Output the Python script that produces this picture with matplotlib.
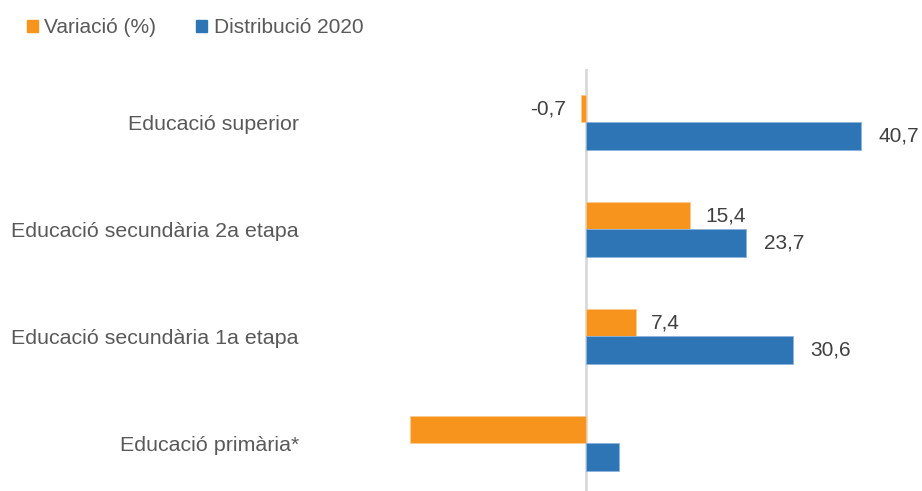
import matplotlib.pyplot as plt
from matplotlib.patches import Patch
import numpy as np

plt.rcParams['font.family'] = ['Liberation Sans', 'DejaVu Sans']

# categories from bottom to top
categories = ['Educació primària*', 'Educació secundària 1a etapa',
              'Educació secundària 2a etapa', 'Educació superior']
variacio = [-26.1, 7.4, 15.4, -0.7]
distribucio = [4.9, 30.6, 23.7, 40.7]
show_label = [False, True, True, True]

orange = '#F7941D'
blue = '#2E75B6'
text_grey = '#595959'
label_grey = '#404040'

fig = plt.figure(figsize=(9.22, 4.91), dpi=100)
ax = fig.add_axes([0.3423, -0.012, 0.6453, 0.8716])

y = np.arange(len(categories))
h = 0.26
b1 = ax.barh(y + h / 2, variacio, height=h, color=orange, edgecolor='#FBC98E', linewidth=0.6)
b2 = ax.barh(y - h / 2, distribucio, height=h, color=blue, edgecolor='#8DB3DD', linewidth=0.6)

def fmt(vals):
    return [f'{v:.1f}'.replace('.', ',') if s else '' for v, s in zip(vals, show_label)]

ax.bar_label(b1, labels=fmt(variacio), padding=11, fontsize=15, color=label_grey)
ax.bar_label(b2, labels=fmt(distribucio), padding=12.5, fontsize=15, color=label_grey)

ax.axvline(0, color='#D9D9D9', lw=2, zorder=0)
ax.set_xlim(-40, 48)
ax.set_ylim(-0.5, 3.5)
ax.set_yticks(y)
ax.set_yticklabels(categories, fontsize=15.4, color=text_grey)
ax.set_xticks([])
ax.tick_params(axis='y', length=0, pad=12)
for s in ax.spines.values():
    s.set_visible(False)

handles = [Patch(color=orange, label='Variació (%)'),
           Patch(color=blue, label='Distribució 2020')]
leg = fig.legend(handles=handles, loc='center left', bbox_to_anchor=(0.029, 0.943),
                 ncol=2, frameon=False, fontsize=15, handlelength=0.55, handleheight=0.55,
                 handletextpad=0.3, columnspacing=1.9, borderaxespad=0, borderpad=0)
for t in leg.get_texts():
    t.set_color(text_grey)

fig.savefig('out.png', dpi=100)
